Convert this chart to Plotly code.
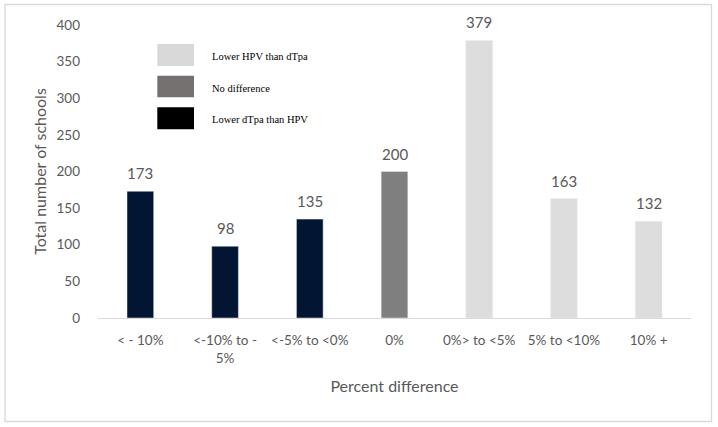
import plotly.graph_objects as go

categories = ["< - 10%", "<-10% to -<br>5%", "<-5% to <0%", "0%", "0%> to <5%", "5% to <10%", "10% +"]
values = [173, 98, 135, 200, 379, 163, 132]
bar_colors = ["#021633", "#021633", "#021633", "#7F7F7F", "#DDDDDD", "#DDDDDD", "#DDDDDD"]

legend_labels = ["Lower HPV than dTpa", "No difference", "Lower dTpa than HPV"]
legend_colors = ["#D9D9D9", "#767171", "#000000"]

y_ticks = [0, 50, 100, 150, 200, 250, 300, 350, 400]

font_family = "Lato, 'Open Sans', sans-serif"
txt = "#595959"

fig = go.Figure()
fig.add_trace(go.Bar(x=categories, y=values, marker_color=bar_colors, width=0.315,
                     showlegend=False, hoverinfo="skip"))

for c, v in zip(categories, values):
    fig.add_annotation(x=c, y=v, text=str(v), showarrow=False, yanchor="bottom",
                       yshift=7, font=dict(family=font_family, size=15, color=txt))

W, H = 718, 427
L, R, T, B = 98, 27, 25, 109
pw, ph = W - L - R, H - T - B

def px_to_paper(x, y):
    return (x - L) / pw, (H - B - y) / ph

box_y = [(44, 66), (75.7, 97.3), (107.3, 129.3)]
for (y0, y1), lab, col in zip(box_y, legend_labels, legend_colors):
    x0p, y0p = px_to_paper(157.3, y1)
    x1p, y1p = px_to_paper(194, y0)
    fig.add_shape(type="rect", xref="paper", yref="paper", x0=x0p, x1=x1p, y0=y0p, y1=y1p,
                  fillcolor=col, line=dict(width=0), layer="above")
    tx, ty = px_to_paper(210, (y0 + y1) / 2 + 1.5)
    fig.add_annotation(xref="paper", yref="paper", x=tx, y=ty, text=lab, showarrow=False,
                       xanchor="left", yanchor="middle",
                       font=dict(family="'Liberation Serif', 'Times New Roman', serif", size=10.5, color="#000000"))

# outer border
fig.add_shape(type="rect", xref="paper", yref="paper",
              x0=(5 - L) / pw, x1=(711.5 - L) / pw, y0=(H - B - 421.5) / ph, y1=(H - B - 4.5) / ph,
              line=dict(color="#D9D9D9", width=1.3), fillcolor="rgba(0,0,0,0)", layer="below")

fig.update_layout(
    width=W, height=H,
    margin=dict(l=L, r=R, t=T, b=B),
    paper_bgcolor="white", plot_bgcolor="white",
    font=dict(family=font_family, color=txt, size=13),
    bargap=0.685,
    xaxis=dict(showline=True, linecolor="#D9D9D9", linewidth=1.3, ticks="",
               tickfont=dict(size=13.5, color=txt), showgrid=False,
               ticklabelstandoff=10,
               title=dict(text="Percent difference", font=dict(size=16, color=txt), standoff=15)),
    yaxis=dict(range=[0, 400], tickvals=y_ticks, showgrid=False, zeroline=False,
               showline=False, ticks="", tickfont=dict(size=13.5, color=txt),
               ticklabelstandoff=17,
               title=dict(text="Total number of schools", font=dict(size=16, color=txt), standoff=5)),
)

fig.write_html("out.html", config={"displayModeBar": False},
               post_script="document.body.style.margin='0';")
